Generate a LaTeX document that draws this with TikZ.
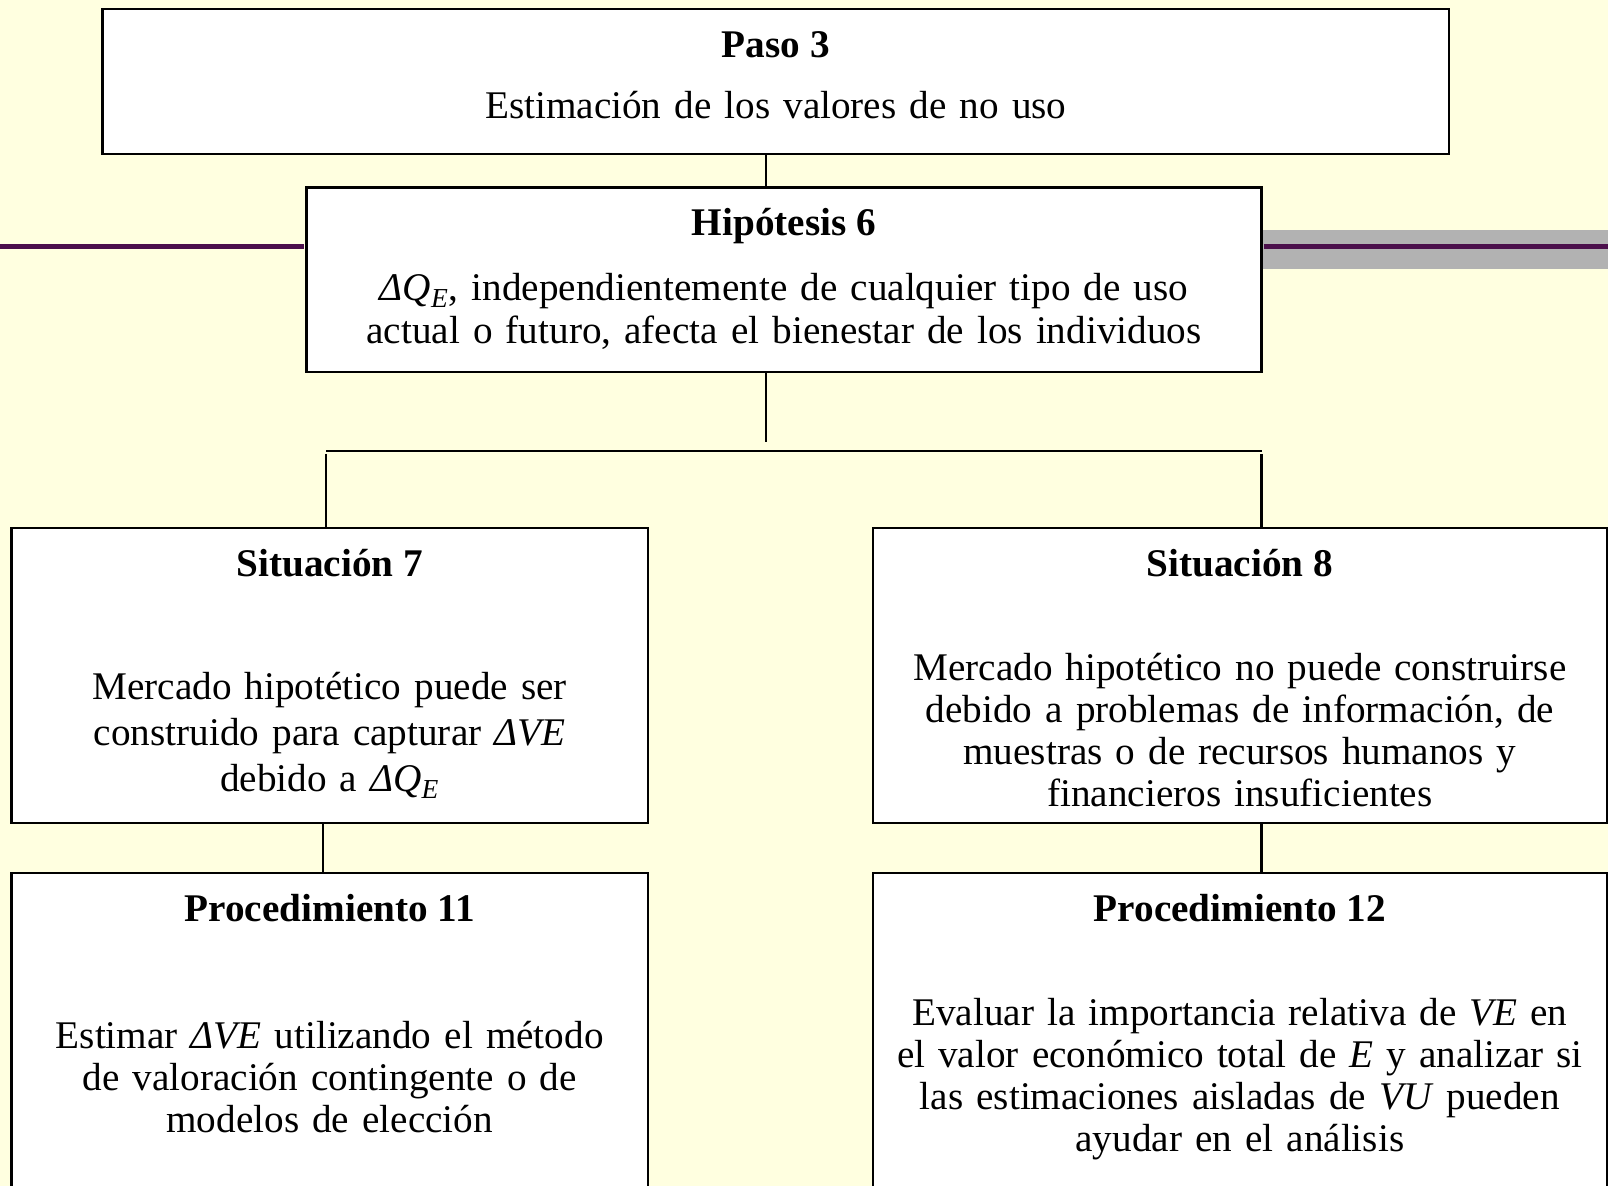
\documentclass[tikz,border=0pt]{standalone}
\usepackage{fontspec}
\setmainfont{Liberation Serif}
\usetikzlibrary{calc}
\definecolor{PaleCream}{HTML}{FFFFE0}
\definecolor{PlumLine}{HTML}{4B0F4B}
\definecolor{BandGray}{HTML}{B2B2B2}
\newcommand{\dQE}{\textit{ΔQ\textsubscript{E}}}
\newcommand{\dVE}{\textit{ΔVE}}

\tikzset{
  stagebox/.style={draw=black, line width=1.2pt, fill=white, inner sep=0pt},
  boxtitle/.style={anchor=base, inner sep=0pt, font=\fontsize{19.6}{21}\selectfont\bfseries},
  boxbody/.style={anchor=base, inner sep=0pt, align=center, font=\fontsize{19.6}{21}\selectfont},
  link/.style={draw=black, line width=1.2pt}
}

\begin{document}
\begin{tikzpicture}[x=0.5pt, y=-0.5pt]
    \useasboundingbox (0,0) rectangle (1608,1186);
    \clip (0,0) rectangle (1608,1186);
    \fill[PaleCream] (0,0) rectangle (1608,1186);

    % gray band behind the right rule
    \fill[BandGray] (1262,230) rectangle (1608,269);

    % boxes
    \node[stagebox, minimum width=673.2pt, minimum height=72.4pt] (paso) at (775.8,81.6) {};
    \node[stagebox, minimum width=477.4pt, minimum height=92.3pt] (hip) at (784,280) {};
    \node[stagebox, minimum width=318.4pt, minimum height=147.5pt] (sit7) at (329.7,675.5) {};
    \node[stagebox, minimum width=367.2pt, minimum height=147.5pt] (sit8) at (1239.9,675.5) {};
    \node[stagebox, minimum width=318.4pt, minimum height=188.5pt] (proc11) at (329.7,1061.5) {};
    \node[stagebox, minimum width=367.2pt, minimum height=188.5pt] (proc12) at (1239.9,1061.5) {};

    % texts
    \node[boxtitle] (pasoT) at ($(paso.north)+(0,49.5)$) {Paso 3};
    \node[boxbody, text width=660pt] (pasoB) at ($(paso.north)+(0,110.8)$)
        {Estimación de los valores de no uso};
    \node[boxtitle] (hipT) at ($(hip.north)+(0,49.5)$) {Hipótesis 6};
    \node[boxbody, text width=470pt, font=\fontsize{19.6}{21.5}\selectfont] (hipB) at ($(hip.north)+(0,114.3)$)
        {\dQE, independientemente de cualquier tipo de uso\\
         actual o futuro, afecta el bienestar de los individuos};
    \node[boxtitle] (sit7T) at ($(sit7.north)+(0,50)$) {Situación 7};
    \node[boxbody, text width=312pt, font=\fontsize{19.6}{23}\selectfont] (sit7B) at ($(sit7.north)+(0,173)$)
        {Mercado hipotético puede ser\\
         construido para capturar \dVE\\
         debido a \dQE};
    \node[boxtitle] (sit8T) at ($(sit8.north)+(0,50)$) {Situación 8};
    \node[boxbody, text width=360pt] (sit8B) at ($(sit8.north)+(0,154)$)
        {Mercado hipotético no puede construirse\\
         debido a problemas de información, de\\
         muestras o de recursos humanos y\\
         financieros insuficientes};
    \node[boxtitle] (proc11T) at ($(proc11.north)+(0,49.5)$) {Procedimiento 11};
    \node[boxbody, text width=312pt] (proc11B) at ($(proc11.north)+(0,177)$)
        {Estimar \dVE{} utilizando el método\\
         de valoración contingente o de\\
         modelos de elección};
    \node[boxtitle] (proc12T) at ($(proc12.north)+(0,49.5)$) {Procedimiento 12};
    \node[boxbody, text width=360pt] (proc12B) at ($(proc12.north)+(0,154)$)
        {Evaluar la importancia relativa de \textit{VE} en\\
         el valor económico total de \textit{E} y analizar si\\
         las estimaciones aisladas de \textit{VU} pueden\\
         ayudar en el análisis};

    % purple rule through Hipótesis 6
    \coordinate (rule) at (0,246.5);
    \coordinate (ruleEnd) at (1608,246.5);
    \draw[PlumLine, line width=2.3pt] (rule) -- ([xshift=-0.6pt]rule -| hip.west);
    \draw[PlumLine, line width=2.3pt] ([xshift=0.6pt]rule -| hip.east) -- (ruleEnd);

    % connectors
    \coordinate (trunk) at (766,0);
    \coordinate (trunkEnd) at (766,442);
    \coordinate (busL) at (326,451);
    \coordinate (busR) at (1261.5,451);
    \coordinate (dropL) at (326,454);
    \coordinate (dropR) at (1261.5,454);
    \coordinate (linkL) at (323,0);
    \draw[link] (paso.south -| trunk) -- (hip.north -| trunk);
    \draw[link] (hip.south -| trunk) -- (trunkEnd);
    \draw[link] (busL) -- (busR);
    \draw[link] (dropL) -- (sit7.north -| dropL);
    \draw[link] (dropR) -- (sit8.north -| dropR);
    \draw[link] (sit7.south -| linkL) -- (proc11.north -| linkL);
    \draw[link] (sit8.south -| busR) -- (proc12.north -| busR);
\end{tikzpicture}
\end{document}
